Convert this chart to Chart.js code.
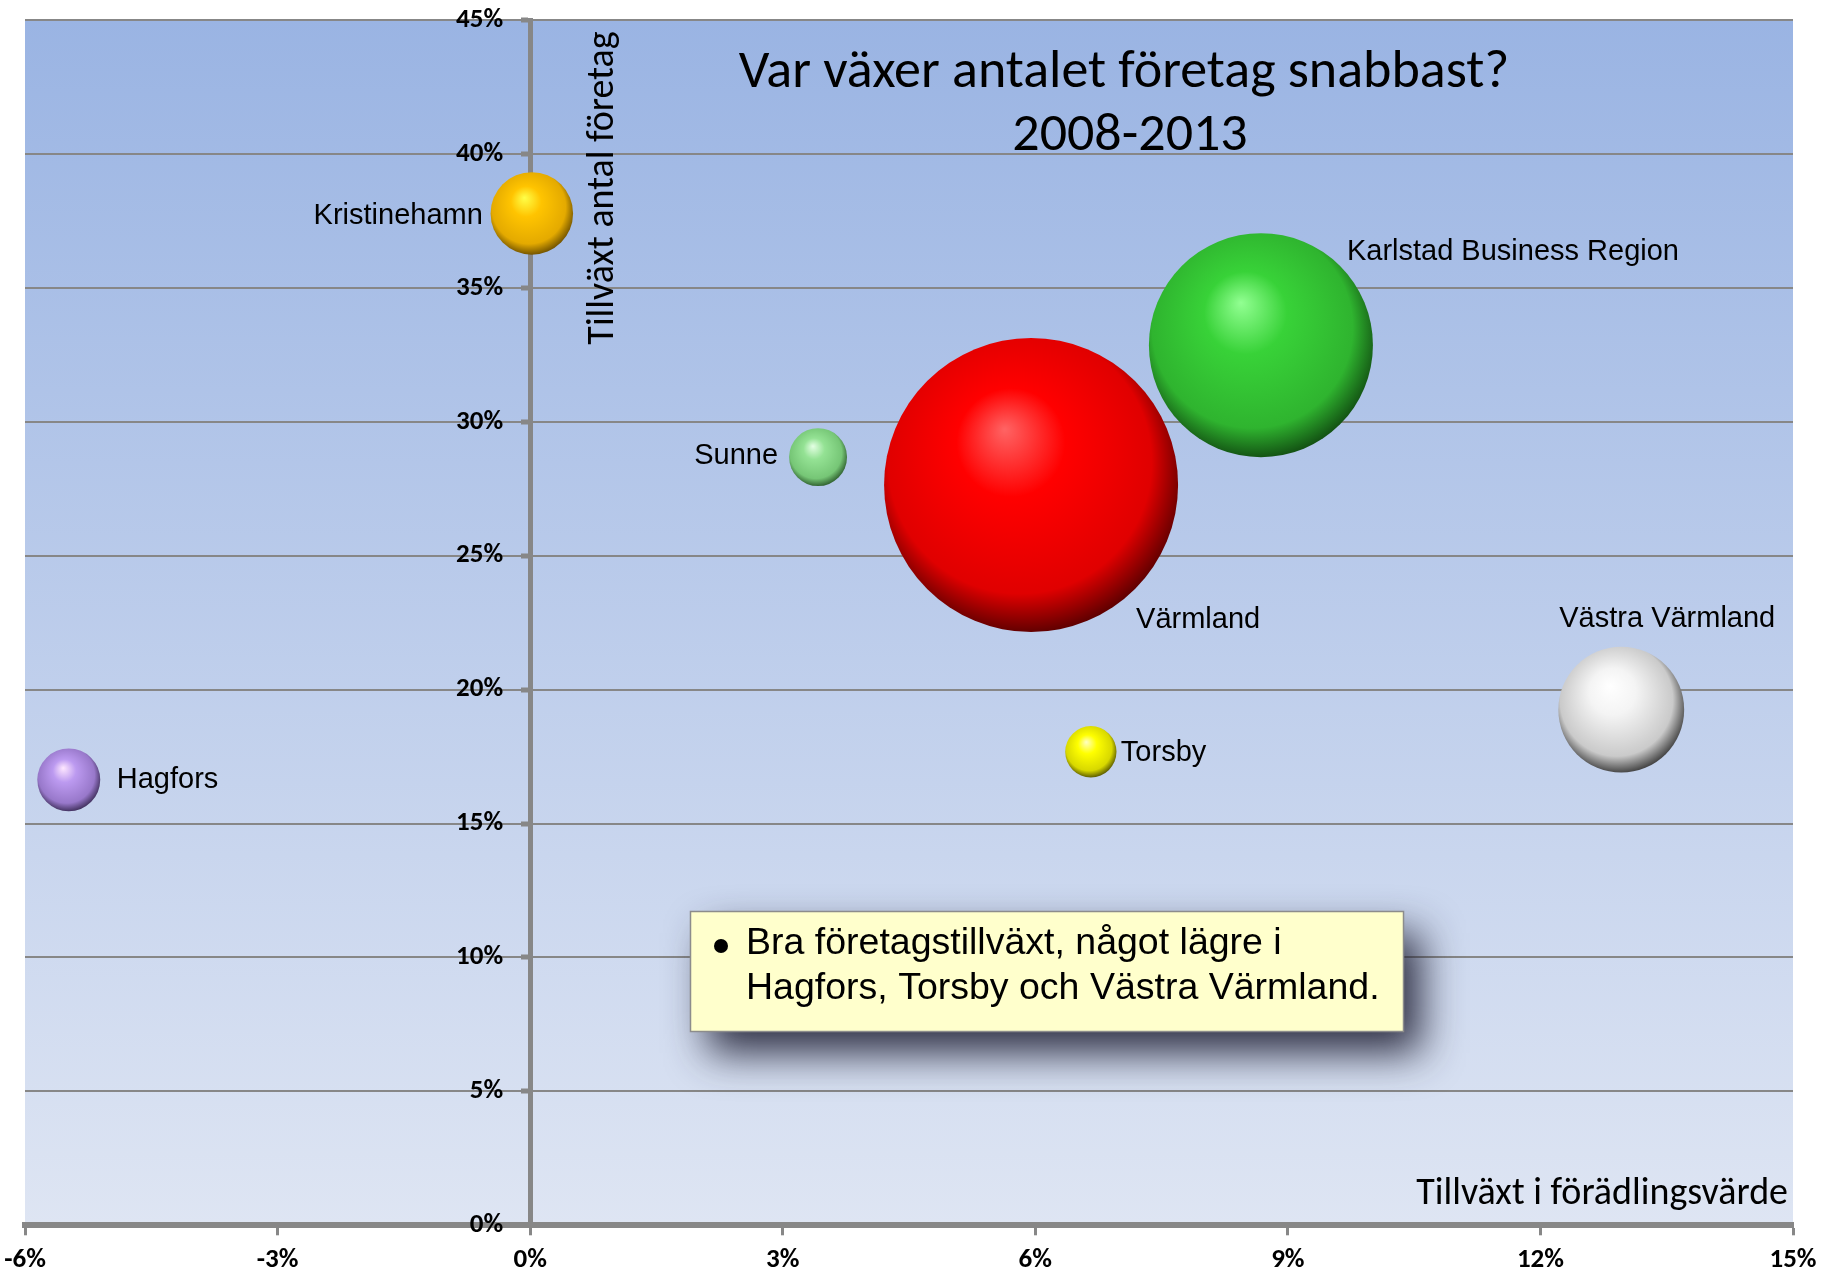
<!DOCTYPE html>
<html lang="sv">
<head>
<meta charset="utf-8">
<title>Var växer antalet företag snabbast? 2008-2013</title>
<script src="https://cdn.jsdelivr.net/npm/chart.js@4.4.1/dist/chart.umd.min.js"></script>
<style>
  html, body { margin: 0; padding: 0; background: #ffffff; overflow: hidden; }
  #wrap { position: relative; width: 1826px; height: 1275px; }
</style>
</head>
<body>
<div id="wrap"><canvas id="bubbla"></canvas></div>
<script>
  "use strict";

  // --- data ---
  const regioner = ["Hagfors", "Kristinehamn", "Sunne", "Värmland",
    "Karlstad Business Region", "Torsby", "Västra Värmland"];
  const tillvaxtForadling = [-5.48, 0.02, 3.42, 5.95, 8.68, 6.66, 12.96];   // x, %
  const tillvaxtForetag = [16.63, 37.78, 28.68, 27.64, 32.86, 17.68, 19.25]; // y, %
  const storlek = [12500, 21500, 10600, 273000, 158500, 8300, 50000];       // bubble size
  const xTicks = [-6, -3, 0, 3, 6, 9, 12, 15];
  const yTicks = [0, 5, 10, 15, 20, 25, 30, 35, 40, 45];

  const titel = ["Var växer antalet företag snabbast?", "2008-2013"];
  const xTitel = "Tillväxt i förädlingsvärde";
  const yTitel = "Tillväxt antal företag";
  const kommentar = ["Bra företagstillväxt, något lägre i", "Hagfors, Torsby och Västra Värmland."];

  // --- styles ---
  const R_MAX = 147;
  const GRAY = "#878787";
  const CALIBRI = "Carlito, Lato, sans-serif";
  const ARIAL = "'Liberation Sans', Arial, sans-serif";

  const klot = [
    { hi: "#FFE8FF", base: "#BC9AF0", mid: "#9878CA", dark: "#3E2E5A" },
    { hi: "#FFFF48", base: "#FFC400", mid: "#E4AA00", dark: "#6E5000" },
    { hi: "#E4FFE4", base: "#94E294", mid: "#76C676", dark: "#2E5E2E" },
    { hi: "#FF6464", base: "#FF0000", mid: "#E00000", dark: "#5A0000" },
    { hi: "#92FF92", base: "#38D238", mid: "#2FB42F", dark: "#124E12" },
    { hi: "#FFFFC4", base: "#FFFF00", mid: "#D8D800", dark: "#585800" },
    { hi: "#FFFFFF", base: "#F4F4F4", mid: "#CACACA", dark: "#3E3E3E" }
  ];

  // label offsets from bubble centre, in px
  const etikett = [
    { align: "left", dx: 48, dy: 0 },
    { align: "right", dx: -49, dy: 3 },
    { align: "right", dx: -40, dy: -1 },
    { align: "left", dx: 105, dy: 135 },
    { align: "left", dx: 86, dy: -93 },
    { align: "left", dx: 30, dy: 1 },
    { align: "center", dx: 46, dy: -91 }
  ];

  const maxStorlek = Math.max.apply(null, storlek);
  const punkter = regioner.map((namn, i) => ({
    x: tillvaxtForadling[i],
    y: tillvaxtForetag[i],
    r: R_MAX * Math.sqrt(storlek[i] / maxStorlek)
  }));

  function sphere(ctx, cx, cy, r, c) {
    const g = ctx.createRadialGradient(cx - 0.18 * r, cy - 0.38 * r, 0,
      cx - 0.05 * r, cy - 0.1 * r, r * 1.12);
    g.addColorStop(0, c.hi);
    g.addColorStop(0.33, c.base);
    g.addColorStop(0.8, c.mid);
    g.addColorStop(1, c.dark);
    return g;
  }

  const bakgrund = {
    id: "bakgrund",
    beforeDraw(chart) {
      const { ctx, chartArea: a } = chart;
      ctx.save();
      ctx.fillStyle = "#ffffff";
      ctx.fillRect(0, 0, chart.width, chart.height);
      const g = ctx.createLinearGradient(0, a.top, 0, a.bottom);
      g.addColorStop(0, "#9AB4E3");
      g.addColorStop(1, "#DEE5F3");
      ctx.fillStyle = g;
      ctx.fillRect(a.left, a.top, a.right - a.left, a.bottom - a.top);
      ctx.restore();

      // y tick labels sit a little left of the crossing axis
      const s = chart.scales.y;
      if (s && typeof s._computeLabelItems === "function") {
        const items = s._computeLabelItems(a);
        items.forEach(it => {
          if (it.options && it.options.translation) it.options.translation[0] -= 27;
        });
        s._labelItems = items;
      }
    }
  };

  const texter = {
    id: "texter",
    afterDatasetsDraw(chart) {
      const { ctx, chartArea: a } = chart;
      const meta = chart.getDatasetMeta(0);
      ctx.save();
      ctx.fillStyle = "#000000";
      ctx.textBaseline = "middle";

      // bubble labels
      ctx.font = "29px " + ARIAL;
      meta.data.forEach((el, i) => {
        const p = etikett[i];
        ctx.textAlign = p.align;
        ctx.fillText(regioner[i], el.x + p.dx, el.y + p.dy);
      });

      // title inside plot
      ctx.font = "54px " + CALIBRI;
      ctx.textAlign = "center";
      ctx.fillText(titel[0], 1124, 73);
      ctx.fillText(titel[1], 1130, 136);

      // axis titles
      ctx.font = "38px " + CALIBRI;
      ctx.textAlign = "right";
      ctx.fillText(xTitel, a.right - 5, 1194);
      ctx.save();
      ctx.translate(603, 188);
      ctx.rotate(-Math.PI / 2);
      ctx.textAlign = "center";
      ctx.fillText(yTitel, 0, 0);
      ctx.restore();

      // comment box
      const bx = 690, by = 911, bw = 713, bh = 120;
      ctx.save();
      ctx.shadowColor = "rgba(30,30,50,0.9)";
      ctx.shadowBlur = 40;
      ctx.shadowOffsetX = 18;
      ctx.shadowOffsetY = 22;
      ctx.fillStyle = "#FFFFCC";
      ctx.fillRect(bx, by, bw, bh);
      ctx.restore();
      ctx.strokeStyle = "#8c8c8c";
      ctx.lineWidth = 1.5;
      ctx.strokeRect(bx + 0.5, by + 0.5, bw, bh);
      ctx.fillStyle = "#000000";
      ctx.beginPath();
      ctx.arc(721, 946, 7, 0, Math.PI * 2);
      ctx.fill();
      ctx.font = "37.5px " + ARIAL;
      ctx.textAlign = "left";
      ctx.fillText(kommentar[0], 746, 944);
      ctx.fillText(kommentar[1], 746, 989);
      ctx.restore();
    }
  };

  new Chart(document.getElementById("bubbla"), {
    type: "bubble",
    data: {
      datasets: [{
        label: "Regioner",
        data: punkter,
        borderWidth: 0,
        hoverBorderWidth: 0,
        backgroundColor(c) {
          if (c.type !== "data") return "transparent";
          const col = klot[c.dataIndex];
          const ch = c.chart;
          const x = ch.scales.x.getPixelForValue(c.raw.x);
          const y = ch.scales.y.getPixelForValue(c.raw.y);
          if (!isFinite(x) || !isFinite(y)) return col.base;
          return sphere(ch.ctx, x, y, c.raw.r, col);
        }
      }]
    },
    options: {
      responsive: true,
      maintainAspectRatio: false,
      animation: false,
      events: [],
      layout: {
        autoPadding: false,
        padding: { left: 25, right: 33, top: 20, bottom: -10.2 }
      },
      plugins: {
        legend: { display: false },
        tooltip: { enabled: false },
        title: { display: false }
      },
      scales: {
        x: {
          type: "linear",
          position: "bottom",
          min: -6,
          max: 15,
          afterBuildTicks(s) { s.ticks = xTicks.map(v => ({ value: v })); },
          grid: {
            drawOnChartArea: false,
            drawTicks: true,
            tickLength: 10,
            tickWidth: 3,
            tickColor: GRAY
          },
          border: { display: true, color: GRAY, width: 6 },
          ticks: {
            padding: 2,
            color: "#000000",
            font: { family: CALIBRI, size: 27, weight: "bold", lineHeight: 1.7 },
            callback: v => v + "%"
          }
        },
        y: {
          type: "linear",
          position: { x: 0 },
          min: 0,
          max: 45,
          afterBuildTicks(s) { s.ticks = yTicks.map(v => ({ value: v })); },
          grid: {
            color: GRAY,
            lineWidth: 2,
            drawTicks: true,
            tickLength: 7,
            tickWidth: 5,
            tickColor: GRAY
          },
          border: { display: true, color: GRAY, width: 5 },
          ticks: {
            padding: 0,
            color: "#000000",
            font: { family: CALIBRI, size: 27, weight: "bold", lineHeight: 1 },
            callback: v => v + "%"
          }
        }
      }
    },
    plugins: [bakgrund, texter]
  });
</script>
</body>
</html>
